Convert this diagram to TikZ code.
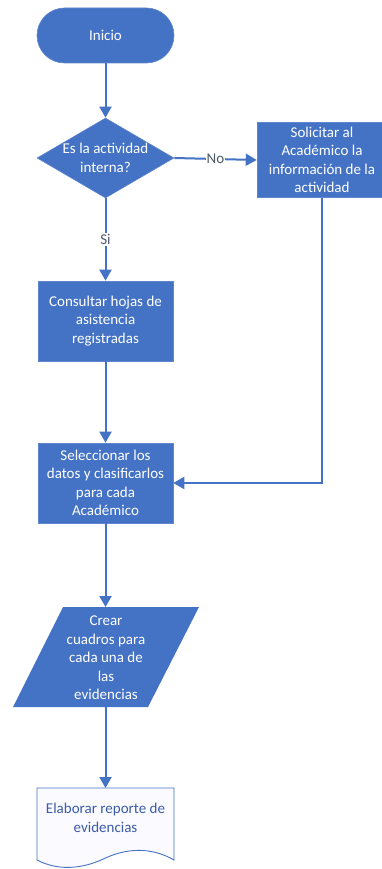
\documentclass[tikz,border=0pt]{standalone}
\usepackage{fontspec}
\setmainfont{Carlito}
\usetikzlibrary{shapes.geometric,arrows.meta,calc}
\definecolor{flowblue}{HTML}{4472C4}
\definecolor{doctext}{HTML}{3B5CA8}
\definecolor{labelgray}{HTML}{505A6A}
\tikzset{
  procbox/.style={rectangle, fill=flowblue, draw=flowblue!85!white, line width=0.6pt,
    text=white, align=center, inner sep=0pt},
  terminal/.style={procbox, rounded corners=27.5pt, minimum width=137pt, minimum height=55pt},
  decision/.style={diamond, fill=flowblue, draw=flowblue!85!white, line width=0.6pt,
    minimum width=137pt, minimum height=80pt, inner sep=0pt},
  plaintext/.style={text=white, align=center, inner sep=0pt},
  flowarrow/.style={draw=flowblue, line width=2pt, -{Triangle[length=11pt,width=12pt]}},
  flowline/.style={draw=flowblue, line width=2pt},
  flowlabel/.style={fill=white, text=labelgray, inner sep=1pt},
}
\begin{document}
\begin{tikzpicture}[x=1pt, y=1pt, font=\fontsize{15}{18.5}\selectfont]
\useasboundingbox (0,0) rectangle (381,-869);

% start terminal
\node[terminal] (start) at (105.5,-35.5) {Inicio};

% decision
\node[decision] (dec) at (105.5,-158) {};
\node[plaintext] (dectext) at (105.5,-158) {Es la actividad\\interna?};

% request box (runs past the right border)
\node[procbox, minimum width=130pt, minimum height=75pt] (sol) at (322,-160)
  {Solicitar al\\Académico la\\información de la\\actividad};

% process boxes
\node[procbox, minimum width=135pt, minimum height=80pt] (con) at (105.5,-321)
  {Consultar hojas de\\asistencia\\registradas};
\node[procbox, minimum width=135pt, minimum height=80pt] (sel) at (105.5,-483)
  {Seleccionar los\\datos y clasificarlos\\para cada\\Académico};

% input/output parallelogram
\coordinate (pTL) at (63,-607);
\coordinate (pTR) at (199,-607);
\coordinate (pBR) at (148,-707);
\coordinate (pBL) at (13,-707);
\fill[flowblue] (pTL) -- (pTR) -- (pBR) -- (pBL) -- cycle;
\coordinate (partop) at (105.5,-607);
\coordinate (parbot) at (105.5,-707);
\node[plaintext] (par) at (106,-658) {Crear\\cuadros para\\cada una de\\las\\evidencias};

% document shape
\coordinate (dTL) at (37,-788);
\coordinate (dTR) at (174,-788);
\coordinate (doctop) at (105.5,-788);
\filldraw[fill=blue!2!white, draw=flowblue, line width=0.9pt]
  (dTL) -- (dTR) -- (174,-860)
  .. controls (150,-846) and (125,-849) .. (105.5,-858)
  .. controls (85,-868) and (60,-872) .. (37,-860) -- cycle;
\node[plaintext, text=doctext] (doc) at (105.5,-818) {Elaborar reporte de\\evidencias};

% connectors
\draw[flowarrow] (start.south) -- (dec.north);
\draw[flowarrow] (dec.east) -- node[flowlabel] {No} (sol.west);
\draw[flowarrow] (dec.south) -- node[flowlabel] {Si} (con.north);
\draw[flowarrow] (con.south) -- (sel.north);
\draw[flowarrow] (sol.south) |- (sel.east);
\draw[flowarrow] (sel.south) -- (partop);
\draw[flowarrow] (parbot) -- (doctop);
\end{tikzpicture}
\end{document}
